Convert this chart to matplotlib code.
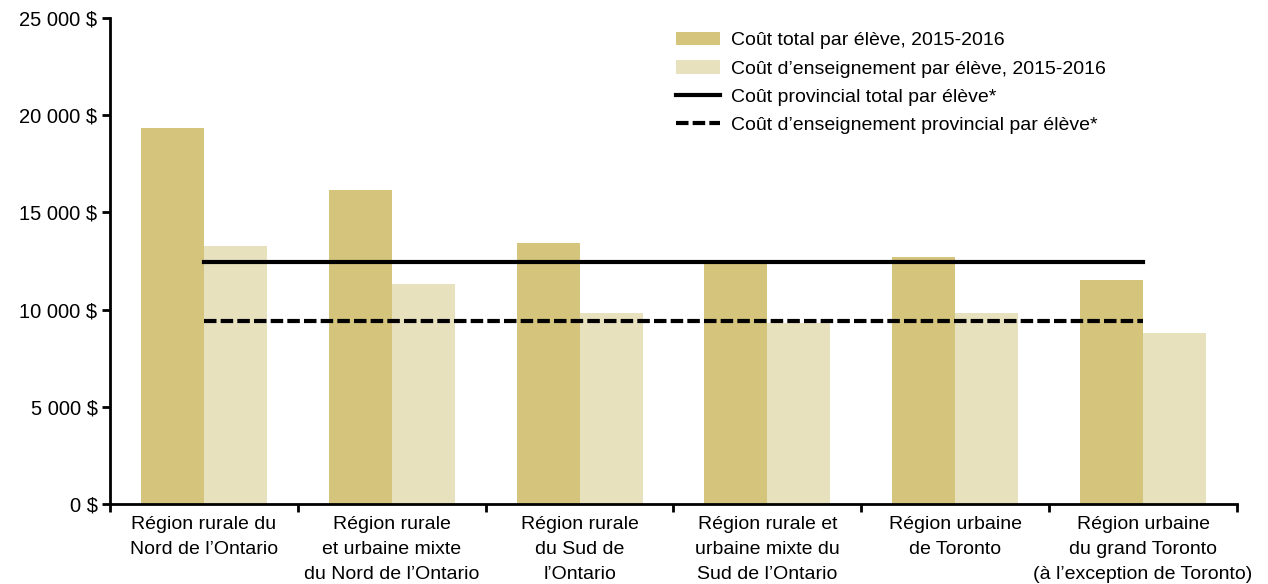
import matplotlib
matplotlib.use("Agg")
import matplotlib.pyplot as plt
from matplotlib.ticker import FuncFormatter
import numpy as np

plt.rcParams['font.family'] = ['Liberation Sans', 'DejaVu Sans']

# Data
regions = ["Région rurale du\nNord de l’Ontario",
           "Région rurale\net urbaine mixte\ndu Nord de l’Ontario",
           "Région rurale\ndu Sud de\nl’Ontario",
           "Région rurale et\nurbaine mixte du\nSud de l’Ontario",
           "Région urbaine\nde Toronto",
           "Région urbaine\ndu grand Toronto\n(à l’exception de Toronto)"]
total_cost = [19360, 16150, 13410, 12400, 12690, 11520]
teaching_cost = [13270, 11330, 9810, 9290, 9820, 8800]
prov_total = 12450
prov_teaching = 9430

labels = ["Coût total par élève, 2015-2016",
          "Coût d’enseignement par élève, 2015-2016",
          "Coût provincial total par élève*",
          "Coût d’enseignement provincial par élève*"]

dark = "#d4c47c"
light = "#e8e1be"

fig = plt.figure(figsize=(12.68, 5.84), dpi=100)
ax = fig.add_axes([0.0868, 0.137, 0.8887, 0.832])

x = np.arange(len(regions))
w = 0.335
b1 = ax.bar(x - w / 2, total_cost, w, color=dark, label=labels[0])
b2 = ax.bar(x + w / 2, teaching_cost, w, color=light, label=labels[1])
l1, = ax.plot([x[0], x[-1]], [prov_total, prov_total], color="black", lw=3, label=labels[2])
l2, = ax.plot([x[0], x[-1]], [prov_teaching, prov_teaching], color="black", lw=3,
              dashes=(3, 1), label=labels[3])

ax.set_xlim(-0.5, len(regions) - 0.5)
ax.set_ylim(0, 25000)
ax.set_yticks(np.arange(0, 25001, 5000))
ax.yaxis.set_major_formatter(FuncFormatter(lambda v, p: "{:,.0f} $".format(v).replace(",", " ")))

ax.set_xticks(np.arange(-0.5, len(regions), 1.0))
ax.set_xticklabels([])
ax.set_xticks(x, minor=True)
ax.set_xticklabels(regions, minor=True, fontsize=14, linespacing=1.6)
ax.tick_params(axis="x", which="minor", length=0, pad=9)
ax.tick_params(axis="x", which="major", length=6, width=2, direction="out")
ax.tick_params(axis="y", length=6, width=2, labelsize=14.5, pad=3)

for s in ["top", "right"]:
    ax.spines[s].set_visible(False)
ax.spines["left"].set_linewidth(2)
ax.spines["bottom"].set_linewidth(2)

leg = ax.legend(handles=[b1, b2, l1, l2], loc="upper left", bbox_to_anchor=(0.495, 0.988),
                frameon=False, fontsize=14, handlelength=2.3, handletextpad=0.55,
                labelspacing=0.55, borderaxespad=0)

fig.savefig("out.png", dpi=100)
